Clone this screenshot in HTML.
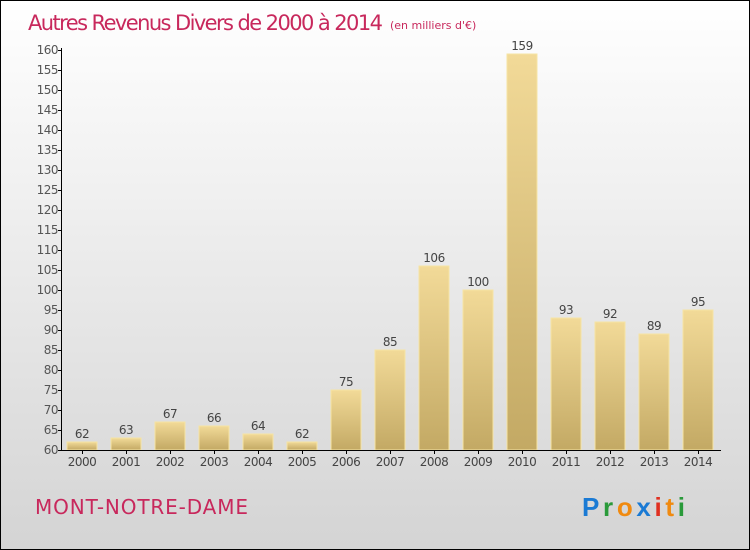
<!DOCTYPE html>
<html><head><meta charset="utf-8"><style>
body{margin:0}
svg{display:block;font-family:"DejaVu Sans","Liberation Sans",sans-serif}
</style></head><body>
<svg id="c" width="750" height="550">
<defs>
<linearGradient id="bg" x1="0" y1="0" x2="0" y2="1"><stop offset="0" stop-color="#ffffff"/><stop offset="1" stop-color="#d4d4d4"/></linearGradient>
<linearGradient id="bar" x1="0" y1="0" x2="0" y2="1"><stop offset="0" stop-color="#f2da98"/><stop offset="1" stop-color="#c3a964"/></linearGradient>
</defs>
<rect x="0.5" y="0.5" width="749" height="549" fill="url(#bg)" stroke="#000"/>
<text x="28" y="30" font-size="21" fill="#c8285c" textLength="355">Autres Revenus Divers de 2000 à 2014</text>
<text x="390" y="29" font-size="11" fill="#c8285c">(en milliers d'€)</text>
<g id="yaxis"></g><g id="bars"></g><g id="xaxis"></g>
<text x="35" y="514" font-size="20" fill="#c8285c" textLength="213">MONT-NOTRE-DAME</text>
<text x="582" y="516" font-size="26" font-weight="bold" font-family="'Liberation Sans',sans-serif" textLength="103"><tspan fill="#1a7ad4">P</tspan><tspan fill="#2a9a3a">r</tspan><tspan fill="#f08a10">o</tspan><tspan fill="#1a7ad4">x</tspan><tspan fill="#e03020">i</tspan><tspan fill="#f08a10">t</tspan><tspan fill="#2a9a3a">i</tspan></text>
</svg>
<script>
const years=["2000","2001","2002","2003","2004","2005","2006","2007","2008","2009","2010","2011","2012","2013","2014"];
const values=[62,63,67,66,64,62,75,85,106,100,159,93,92,89,95];
const yTicks=[60,65,70,75,80,85,90,95,100,105,110,115,120,125,130,135,140,145,150,155,160];
const NS="http://www.w3.org/2000/svg";
function y(v){return 450-(v-60)*4;}
function x(i){return 82+i*44;}
function mk(t,a,p,txt){const e=document.createElementNS(NS,t);for(const k in a)e.setAttribute(k,a[k]);if(txt!==undefined)e.textContent=txt;p.appendChild(e);return e;}
const ya=document.getElementById('yaxis'),ba=document.getElementById('bars'),xa=document.getElementById('xaxis');
const yl=mk('line',{x1:61.5,y1:48,x2:61.5,y2:450,stroke:'#000'},ya);


yTicks.forEach(v=>{
 const t=mk('line',{x1:58,x2:62,y1:y(v)+0.5,y2:y(v)+0.5,stroke:'#000'},ya);
 
 
 const l=mk('text',{x:58,y:y(v)+4,'font-size':12,fill:'#555','text-anchor':'end','letter-spacing':'-0.5'},ya,v);
 
 
});
values.forEach((v,i)=>{
 const r=mk('rect',{x:x(i)-15,y:y(v),width:30,height:450-y(v),fill:'url(#bar)',stroke:'#f6e4a4','stroke-width':1},ba);
 
 
 const l=mk('text',{x:x(i),y:y(v)-4,'font-size':12,fill:'#444','text-anchor':'middle','letter-spacing':'-0.5'},ba,v);
 
 
 const xl=mk('text',{x:x(i),y:466,'font-size':12,fill:'#444','text-anchor':'middle','letter-spacing':'-0.5'},xa,years[i]);
 
 
 const xt=mk('line',{x1:x(i)+0.5,x2:x(i)+0.5,y1:450,y2:454,stroke:'#000'},xa);
 
 
});
const xl=mk('line',{x1:61,y1:450.5,x2:721,y2:450.5,stroke:'#000'},xa);


</script>
</body></html>
